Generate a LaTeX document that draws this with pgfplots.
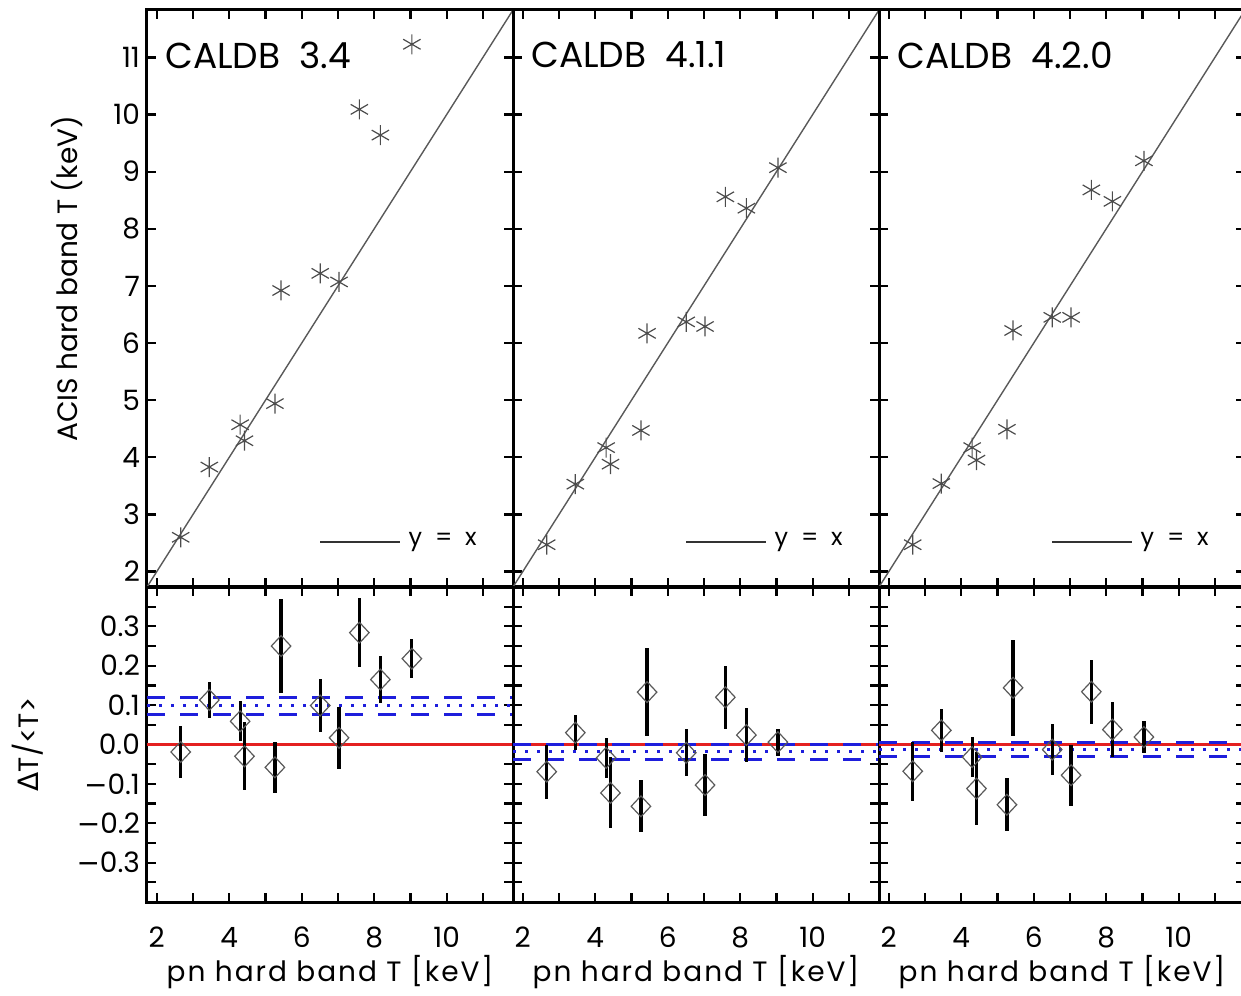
\documentclass[border=0pt]{standalone}
\usepackage{pgfplots}
\pgfplotsset{compat=1.18}
\usepackage{pgfplotstable}
\usepackage{fontspec}
\setmainfont{Poppins}
\newfontfamily\dejavu{DejaVu Sans}
\newcommand{\mn}{{\dejavu −}}

\definecolor{myred}{RGB}{228,32,32}
\definecolor{myblue}{RGB}{30,30,220}

% pn T, ACIS T for CALDB 3.4, 4.1.1, 4.2.0
\pgfplotstableread{
x    ya    yb    yc
2.66 2.60  2.47  2.47
3.45 3.83  3.53  3.54
4.30 4.57  4.17  4.17
4.42 4.29  3.88  3.95
5.26 4.94  4.47  4.49
5.43 6.92  6.17  6.22
6.51 7.22  6.37  6.45
7.03 7.07  6.29  6.45
7.59 10.09 8.56  8.68
8.17 9.64  8.36  8.48
9.04 11.23 9.07  9.19
}\toptab

% relative differences and errors
\pgfplotstableread{
x    ra     ea    rb     eb    rc     ec
2.66 -0.019 0.066 -0.069 0.069 -0.068 0.075
3.45  0.113 0.045  0.030 0.044  0.036 0.055
4.30  0.059 0.051 -0.034 0.050 -0.032 0.050
4.42 -0.030 0.086 -0.123 0.090 -0.112 0.092
5.26 -0.058 0.064 -0.157 0.066 -0.153 0.067
5.43  0.250 0.120  0.133 0.112  0.144 0.122
6.51  0.099 0.067 -0.021 0.060 -0.013 0.065
7.03  0.017 0.078 -0.103 0.078 -0.078 0.077
7.59  0.284 0.088  0.120 0.080  0.134 0.081
8.17  0.165 0.059  0.024 0.068  0.038 0.069
9.04  0.218 0.050  0.006 0.034  0.019 0.041
}\bottab

\pgfplotsset{
  panel/.style={
    scale only axis, width=183pt, anchor=south west,
    xmin=1.73, xmax=11.83,
    axis line style={line width=1.5pt},
    tick style={line width=1.1pt, black},
    major tick length=4.5pt, minor tick length=4.5pt,
    tick align=inside, xtick pos=both, ytick pos=both,
    /pgf/number format/assume math mode=true,
    ticklabel style={font=\fontsize{14}{16}\selectfont},
    label style={font=\fontsize{14}{16}\selectfont},
    xtick={2,4,...,10}, minor xtick={3,5,...,11},
    clip=true,
  },
  toppanel/.style={panel, height=288.5pt,
    ymin=1.73, ymax=11.83, ytick={2,...,11}, xticklabels={}},
  botpanel/.style={panel, height=157.5pt,
    ymin=-0.4, ymax=0.4,
    ytick={-0.3,-0.2,-0.1,0,0.1,0.2,0.3},
    minor ytick={-0.35,-0.25,-0.15,-0.05,0.05,0.15,0.25,0.35},
    xticklabel style={yshift=-9pt},
    xlabel={pn hard band T [keV]},
    xlabel style={at={(axis description cs:0.5,-0.222)}, anchor=center,
      font=\fontsize{14}{16}\selectfont\addfontfeature{LetterSpace=7}},
  },
  stars/.style={only marks, mark=asterisk, mark size=5pt,
    mark options={line width=0.6pt, black!70}},
  diam/.style={only marks, mark=diamond, mark size=5.2pt,
    mark options={black!65, line width=0.6pt, xscale=1.25, fill=none},
    error bars/.cd, y dir=both, y explicit, error mark=none,
    error bar style={line width=1.6pt, black}},
  diag/.style={black!65, line width=0.7pt},
  redl/.style={myred, line width=1.6pt},
  dotl/.style={myblue, line width=1.5pt, dash pattern=on 1.5pt off 4.5pt},
  dashl/.style={myblue, line width=1.5pt, dash pattern=on 9pt off 7.5pt},
}

\newcommand{\yxlegend}{%
  \draw[black!80, line width=0.8pt] (rel axis cs:0.473,0.078) -- (rel axis cs:0.691,0.078)
    node[right, black, inner sep=4pt, font=\fontsize{12}{14}\selectfont]{y\ \ =\ \ x};}

\begin{document}
\begin{tikzpicture}
\useasboundingbox (0,0) rectangle (620.5pt,497.5pt);

% ---------- top row ----------
\begin{axis}[toppanel, at={(73.5pt,204pt)},
  ylabel={ACIS hard band T (keV)},
  ylabel style={at={(axis description cs:-0.219,0.534)}, anchor=center}]
  \addplot[diag] coordinates {(1.73,1.73) (11.83,11.83)};
  \addplot[stars] table[x=x,y=ya]{\toptab};
  \node[anchor=west, inner sep=0pt, font=\fontsize{18}{20}\selectfont] at (rel axis cs:0.049,0.922) {CALDB\ \ 3.4};
  \yxlegend
\end{axis}

\begin{axis}[toppanel, at={(256.5pt,204pt)}, yticklabels={}]
  \addplot[diag] coordinates {(1.73,1.73) (11.83,11.83)};
  \addplot[stars] table[x=x,y=yb]{\toptab};
  \node[anchor=west, inner sep=0pt, font=\fontsize{18}{20}\selectfont] at (rel axis cs:0.049,0.922) {CALDB\ \ 4.1.1};
  \yxlegend
\end{axis}

\begin{axis}[toppanel, at={(439.5pt,204pt)}, yticklabels={}]
  \addplot[diag] coordinates {(1.73,1.73) (11.83,11.83)};
  \addplot[stars] table[x=x,y=yc]{\toptab};
  \node[anchor=west, inner sep=0pt, font=\fontsize{18}{20}\selectfont] at (rel axis cs:0.049,0.922) {CALDB\ \ 4.2.0};
  \yxlegend
\end{axis}

% ---------- bottom row ----------
\begin{axis}[botpanel, at={(73.5pt,46.5pt)},
  yticklabels={\mn0.3,\mn0.2,\mn0.1,0.0,0.1,0.2,0.3},
  ylabel={{\dejavu Δ}T/<T>},
  ylabel style={at={(axis description cs:-0.325,0.5)}, anchor=center}]
  \addplot[redl] coordinates {(1.73,0) (11.83,0)};
  \addplot[dotl] coordinates {(1.73,0.098) (11.83,0.098)};
  \addplot[dashl] coordinates {(1.73,0.119) (11.83,0.119)};
  \addplot[dashl] coordinates {(1.73,0.077) (11.83,0.077)};
  \addplot[diam] table[x=x,y=ra,y error=ea]{\bottab};
\end{axis}

\begin{axis}[botpanel, at={(256.5pt,46.5pt)}, yticklabels={}]
  \addplot[redl] coordinates {(1.73,0) (11.83,0)};
  \addplot[dotl] coordinates {(1.73,-0.017) (11.83,-0.017)};
  \addplot[dashl] coordinates {(1.73,0.001) (11.83,0.001)};
  \addplot[dashl] coordinates {(1.73,-0.038) (11.83,-0.038)};
  \addplot[diam] table[x=x,y=rb,y error=eb]{\bottab};
\end{axis}

\begin{axis}[botpanel, at={(439.5pt,46.5pt)}, yticklabels={}]
  \addplot[redl] coordinates {(1.73,0) (11.83,0)};
  \addplot[dotl] coordinates {(1.73,-0.013) (11.83,-0.013)};
  \addplot[dashl] coordinates {(1.73,0.004) (11.83,0.004)};
  \addplot[dashl] coordinates {(1.73,-0.030) (11.83,-0.030)};
  \addplot[diam] table[x=x,y=rc,y error=ec]{\bottab};
\end{axis}
\end{tikzpicture}
\end{document}
